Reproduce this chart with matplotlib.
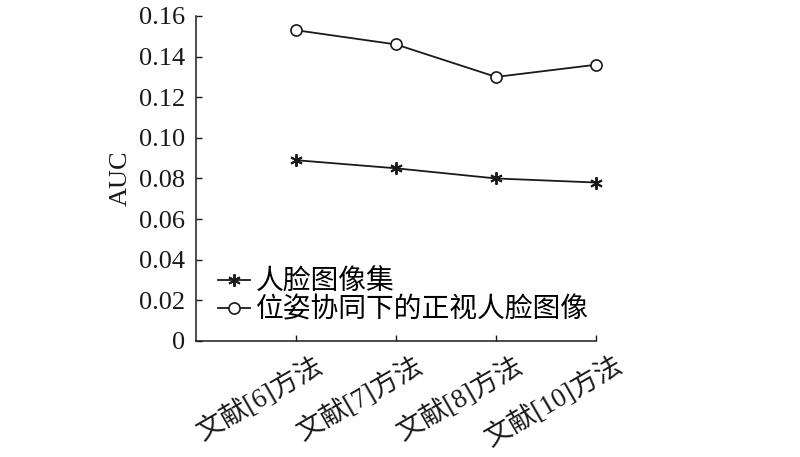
import matplotlib.pyplot as plt
import matplotlib.transforms as mtransforms

plt.rcParams['font.family'] = ['Liberation Serif', 'Noto Sans CJK SC']

methods = ['文献[6]方法', '文献[7]方法', '文献[8]方法', '文献[10]方法']
face_set = [0.089, 0.085, 0.080, 0.078]
frontal_face = [0.153, 0.146, 0.130, 0.136]
x = [1, 2, 3, 4]

fig = plt.figure(figsize=(8, 4.57), dpi=100)
ax = fig.add_axes([0.245, 0.254, 0.5, 0.711])

ax.plot(x, face_set, color='#1a1a1a', lw=1.3, marker=(6, 2, 0), ms=9, mew=1.4,
        label='人脸图像集', clip_on=False)
ax.plot(x, frontal_face, color='#1a1a1a', lw=1.3, marker='o', ms=8, mfc='white',
        mew=1.2, label='位姿协同下的正视人脸图像', clip_on=False)

ax.set_xlim(0, 4)
ax.set_ylim(0, 0.16)
ax.set_yticks([0, 0.02, 0.04, 0.06, 0.08, 0.10, 0.12, 0.14, 0.16])
ax.set_yticklabels(['0', '0.02', '0.04', '0.06', '0.08', '0.10', '0.12', '0.14', '0.16'])
ax.set_xticks(x)
ax.set_xticklabels([])

# category labels, shifted right of the tick like the original
offset = mtransforms.ScaledTranslation(0.31, -0.11, fig.dpi_scale_trans)
for xi, name in zip(x, methods):
    ax.text(xi, 0, name, transform=ax.get_xaxis_transform() + offset,
            rotation=30, ha='right', va='top', fontsize=19.5, color='#1a1a1a')

ax.tick_params(direction='in', length=4, width=1, labelsize=19, pad=8, colors='#1a1a1a')
ax.set_ylabel('AUC', fontsize=19, labelpad=5, color='#1a1a1a')

for s in ['top', 'right']:
    ax.spines[s].set_visible(False)
for s in ['left', 'bottom']:
    ax.spines[s].set_linewidth(1.1)
    ax.spines[s].set_color('#1a1a1a')

ax.legend(loc='center left', bbox_to_anchor=(0.055, 0.137), frameon=False,
          fontsize=20, handlelength=1.15, handletextpad=0.2, labelspacing=0.08,
          borderpad=0, borderaxespad=0)

plt.savefig('out.png', dpi=100)
